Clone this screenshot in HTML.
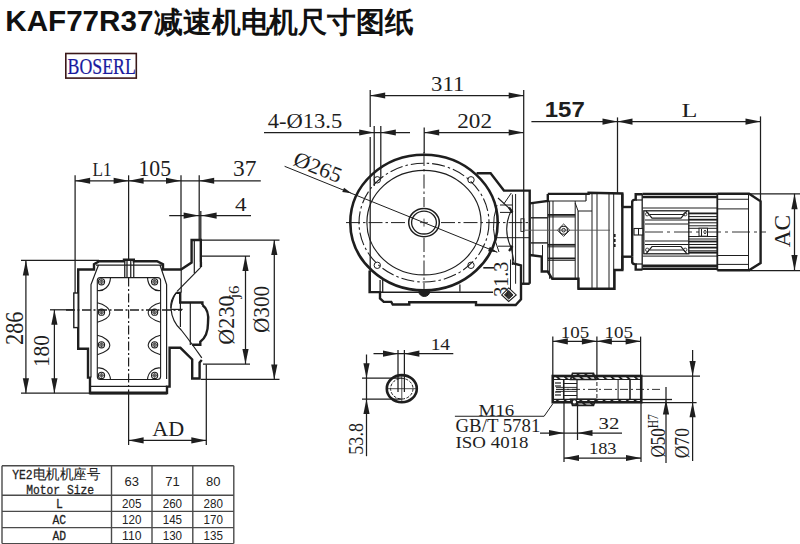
<!DOCTYPE html>
<html><head><meta charset="utf-8"><style>html,body{margin:0;padding:0;background:#fff;width:800px;height:544px;overflow:hidden}svg{display:block}</style></head><body>
<svg width="800" height="544" viewBox="0 0 800 544">
<text transform="matrix(0.9871,0.0000,0.0000,1.0105,5.299,31.371)" font-family="Liberation Sans" font-weight="bold" font-size="30" fill="#111">KAF77R37</text>
<text x="154" y="31.5" font-family="Liberation Sans" font-size="28.6" font-weight="bold" fill="#111" text-anchor="start" textLength="259.5" lengthAdjust="spacingAndGlyphs">减速机电机尺寸图纸</text>
<rect x="65.8" y="53.5" width="70.5" height="24.6" fill="none" stroke="#3b1818" stroke-width="1.6"/>
<text transform="matrix(0.8907,0.0000,0.0000,1.1556,67.505,73.561)" font-family="Liberation Serif" font-weight="normal" font-size="20" fill="#1a1a9e" stroke="#1a1a9e" stroke-width="0.2">BOSERL</text>
<line x1="2" y1="465.8" x2="2" y2="543.6" stroke="#4a4a4a" stroke-width="1.4" stroke-linecap="butt"/>
<line x1="111.5" y1="465.8" x2="111.5" y2="543.6" stroke="#4a4a4a" stroke-width="1.4" stroke-linecap="butt"/>
<line x1="152" y1="465.8" x2="152" y2="543.6" stroke="#4a4a4a" stroke-width="1.4" stroke-linecap="butt"/>
<line x1="192.8" y1="465.8" x2="192.8" y2="543.6" stroke="#4a4a4a" stroke-width="1.4" stroke-linecap="butt"/>
<line x1="233.8" y1="465.8" x2="233.8" y2="543.6" stroke="#4a4a4a" stroke-width="1.4" stroke-linecap="butt"/>
<line x1="2" y1="465.8" x2="233.8" y2="465.8" stroke="#4a4a4a" stroke-width="1.4" stroke-linecap="butt"/>
<line x1="2" y1="495.3" x2="233.8" y2="495.3" stroke="#4a4a4a" stroke-width="1.4" stroke-linecap="butt"/>
<line x1="2" y1="511.4" x2="233.8" y2="511.4" stroke="#4a4a4a" stroke-width="1.4" stroke-linecap="butt"/>
<line x1="2" y1="527.6" x2="233.8" y2="527.6" stroke="#4a4a4a" stroke-width="1.4" stroke-linecap="butt"/>
<line x1="2" y1="543.6" x2="233.8" y2="543.6" stroke="#4a4a4a" stroke-width="1.4" stroke-linecap="butt"/>
<text x="12.3" y="479.3" font-family="Liberation Mono" font-size="13.5" font-weight="normal" fill="#222" text-anchor="start" textLength="20.3" lengthAdjust="spacingAndGlyphs" stroke="#222" stroke-width="0.3">YE2</text>
<text x="32.6" y="479.3" font-family="Liberation Sans" font-size="13.5" font-weight="normal" fill="#222" text-anchor="start" textLength="67.5" lengthAdjust="spacingAndGlyphs" stroke="#222" stroke-width="0.12">电机机座号</text>
<text x="26.2" y="493.5" font-family="Liberation Mono" font-size="13.5" font-weight="normal" fill="#222" text-anchor="start" textLength="67.9" lengthAdjust="spacingAndGlyphs" stroke="#222" stroke-width="0.3">Motor Size</text>
<text x="131.7" y="485.6" font-family="Liberation Sans" font-size="13" font-weight="normal" fill="#222" text-anchor="middle">63</text>
<text x="172.4" y="485.6" font-family="Liberation Sans" font-size="13" font-weight="normal" fill="#222" text-anchor="middle">71</text>
<text x="213.3" y="485.6" font-family="Liberation Sans" font-size="13" font-weight="normal" fill="#222" text-anchor="middle">80</text>
<text x="59.3" y="508.3" font-family="Liberation Mono" font-size="13.5" font-weight="normal" fill="#222" text-anchor="middle" textLength="6.8" lengthAdjust="spacingAndGlyphs" stroke="#222" stroke-width="0.3">L</text>
<text x="131.75" y="508.3" font-family="Liberation Sans" font-size="13" font-weight="normal" fill="#222" text-anchor="middle" textLength="19.4" lengthAdjust="spacingAndGlyphs">205</text>
<text x="172.4" y="508.3" font-family="Liberation Sans" font-size="13" font-weight="normal" fill="#222" text-anchor="middle" textLength="19.4" lengthAdjust="spacingAndGlyphs">260</text>
<text x="213.3" y="508.3" font-family="Liberation Sans" font-size="13" font-weight="normal" fill="#222" text-anchor="middle" textLength="19.4" lengthAdjust="spacingAndGlyphs">280</text>
<text x="59.3" y="523.6" font-family="Liberation Mono" font-size="13.5" font-weight="normal" fill="#222" text-anchor="middle" textLength="13.6" lengthAdjust="spacingAndGlyphs" stroke="#222" stroke-width="0.3">AC</text>
<text x="131.75" y="523.6" font-family="Liberation Sans" font-size="13" font-weight="normal" fill="#222" text-anchor="middle" textLength="19.4" lengthAdjust="spacingAndGlyphs">120</text>
<text x="172.4" y="523.6" font-family="Liberation Sans" font-size="13" font-weight="normal" fill="#222" text-anchor="middle" textLength="19.4" lengthAdjust="spacingAndGlyphs">145</text>
<text x="213.3" y="523.6" font-family="Liberation Sans" font-size="13" font-weight="normal" fill="#222" text-anchor="middle" textLength="19.4" lengthAdjust="spacingAndGlyphs">170</text>
<text x="59.3" y="540.1" font-family="Liberation Mono" font-size="13.5" font-weight="normal" fill="#222" text-anchor="middle" textLength="13.6" lengthAdjust="spacingAndGlyphs" stroke="#222" stroke-width="0.3">AD</text>
<text x="131.75" y="540.1" font-family="Liberation Sans" font-size="13" font-weight="normal" fill="#222" text-anchor="middle" textLength="19.4" lengthAdjust="spacingAndGlyphs">110</text>
<text x="172.4" y="540.1" font-family="Liberation Sans" font-size="13" font-weight="normal" fill="#222" text-anchor="middle" textLength="19.4" lengthAdjust="spacingAndGlyphs">130</text>
<text x="213.3" y="540.1" font-family="Liberation Sans" font-size="13" font-weight="normal" fill="#222" text-anchor="middle" textLength="19.4" lengthAdjust="spacingAndGlyphs">135</text>
<line x1="75.1" y1="175.3" x2="75.1" y2="293" stroke="#1e1e1e" stroke-width="1.25" stroke-linecap="butt"/>
<line x1="128.6" y1="175.3" x2="128.6" y2="259.8" stroke="#1e1e1e" stroke-width="1.25" stroke-linecap="butt"/>
<line x1="181" y1="175.3" x2="181" y2="269.5" stroke="#1e1e1e" stroke-width="1.25" stroke-linecap="butt"/>
<line x1="199.2" y1="175.3" x2="199.2" y2="240" stroke="#1e1e1e" stroke-width="1.25" stroke-linecap="butt"/>
<line x1="75.1" y1="180.75" x2="260.8" y2="180.75" stroke="#1e1e1e" stroke-width="1.25" stroke-linecap="butt"/>
<polygon points="75.10,180.75 90.10,177.65 90.10,183.85" fill="#1e1e1e"/>
<polygon points="128.60,180.75 113.60,177.65 113.60,183.85" fill="#1e1e1e"/>
<polygon points="128.60,180.75 143.60,177.65 143.60,183.85" fill="#1e1e1e"/>
<polygon points="181.00,180.75 166.00,177.65 166.00,183.85" fill="#1e1e1e"/>
<polygon points="199.20,180.75 214.20,177.65 214.20,183.85" fill="#1e1e1e"/>
<text transform="matrix(0.8585,0.0000,0.0000,0.8981,92.621,176.150)" font-family="Liberation Serif" font-weight="normal" font-size="20" fill="#1e1e1e">L1</text>
<text transform="matrix(1.0873,0.0000,0.0000,1.1148,138.447,176.171)" font-family="Liberation Serif" font-weight="normal" font-size="20" fill="#1e1e1e">105</text>
<text transform="matrix(1.1730,0.0000,0.0000,1.1037,232.977,176.174)" font-family="Liberation Serif" font-weight="normal" font-size="20" fill="#1e1e1e">37</text>
<line x1="169.2" y1="215.6" x2="251" y2="215.6" stroke="#1e1e1e" stroke-width="1.25" stroke-linecap="butt"/>
<polygon points="198.60,215.60 183.60,212.50 183.60,218.70" fill="#1e1e1e"/>
<polygon points="201.60,215.60 216.60,212.50 216.60,218.70" fill="#1e1e1e"/>
<line x1="200.8" y1="211" x2="200.8" y2="240" stroke="#1e1e1e" stroke-width="1.25" stroke-linecap="butt"/>
<text transform="matrix(1.1568,0.0000,0.0000,0.9434,235.072,210.750)" font-family="Liberation Serif" font-weight="normal" font-size="20" fill="#1e1e1e">4</text>
<line x1="21" y1="260.4" x2="99" y2="260.4" stroke="#1e1e1e" stroke-width="1.25" stroke-linecap="butt"/>
<line x1="21" y1="393.2" x2="90" y2="393.2" stroke="#1e1e1e" stroke-width="1.25" stroke-linecap="butt"/>
<line x1="25.9" y1="260.4" x2="25.9" y2="393.2" stroke="#1e1e1e" stroke-width="1.25" stroke-linecap="butt"/>
<polygon points="25.90,260.40 22.80,275.40 29.00,275.40" fill="#1e1e1e"/>
<polygon points="25.90,393.20 22.80,378.20 29.00,378.20" fill="#1e1e1e"/>
<text transform="matrix(0.0000,-1.1158,1.3037,0.0000,22.824,344.966)" font-family="Liberation Serif" font-weight="normal" font-size="20" fill="#1e1e1e">286</text>
<line x1="50" y1="309.8" x2="78" y2="309.8" stroke="#1e1e1e" stroke-width="1.25" stroke-linecap="butt"/>
<line x1="54.4" y1="309.8" x2="54.4" y2="393.2" stroke="#1e1e1e" stroke-width="1.25" stroke-linecap="butt"/>
<polygon points="54.40,309.80 51.30,324.80 57.50,324.80" fill="#1e1e1e"/>
<polygon points="54.40,393.20 51.30,378.20 57.50,378.20" fill="#1e1e1e"/>
<text transform="matrix(0.0000,-1.0691,1.2000,0.0000,49.350,367.121)" font-family="Liberation Serif" font-weight="normal" font-size="20" fill="#1e1e1e">180</text>
<line x1="128.6" y1="393" x2="128.6" y2="445" stroke="#1e1e1e" stroke-width="1.25" stroke-linecap="butt"/>
<line x1="206.3" y1="364.5" x2="206.3" y2="445" stroke="#1e1e1e" stroke-width="1.25" stroke-linecap="butt"/>
<line x1="128.6" y1="440.4" x2="206.3" y2="440.4" stroke="#1e1e1e" stroke-width="1.25" stroke-linecap="butt"/>
<polygon points="128.60,440.40 143.60,437.30 143.60,443.50" fill="#1e1e1e"/>
<polygon points="206.30,440.40 191.30,437.30 191.30,443.50" fill="#1e1e1e"/>
<text transform="matrix(1.1063,0.0000,0.0000,1.0415,152.373,436.150)" font-family="Liberation Serif" font-weight="normal" font-size="20" fill="#1e1e1e">AD</text>
<line x1="201" y1="256" x2="250" y2="256" stroke="#1e1e1e" stroke-width="1.25" stroke-linecap="butt"/>
<line x1="203" y1="364.1" x2="250" y2="364.1" stroke="#1e1e1e" stroke-width="1.25" stroke-linecap="butt"/>
<line x1="245.5" y1="256" x2="245.5" y2="364.1" stroke="#1e1e1e" stroke-width="1.25" stroke-linecap="butt"/>
<polygon points="245.50,256.00 242.40,271.00 248.60,271.00" fill="#1e1e1e"/>
<polygon points="245.50,364.10 242.40,349.10 248.60,349.10" fill="#1e1e1e"/>
<line x1="201" y1="240" x2="279.5" y2="240" stroke="#1e1e1e" stroke-width="1.25" stroke-linecap="butt"/>
<line x1="201" y1="379.4" x2="279.5" y2="379.4" stroke="#1e1e1e" stroke-width="1.25" stroke-linecap="butt"/>
<line x1="274.3" y1="240" x2="274.3" y2="379.4" stroke="#1e1e1e" stroke-width="1.25" stroke-linecap="butt"/>
<polygon points="274.30,240.00 271.20,255.00 277.40,255.00" fill="#1e1e1e"/>
<polygon points="274.30,379.40 271.20,364.40 277.40,364.40" fill="#1e1e1e"/>
<text transform="matrix(0.0000,-1.1093,1.1860,0.0000,234.457,344.682)" font-family="Liberation Serif" font-weight="normal" font-size="20" fill="#1e1e1e">Ø230</text>
<text transform="matrix(0.0000,-0.8516,0.7086,0.0000,239.339,298.624)" font-family="Liberation Serif" font-weight="normal" font-size="20" fill="#1e1e1e">j6</text>
<text transform="matrix(0.0000,-1.0605,1.1930,0.0000,269.054,332.945)" font-family="Liberation Serif" font-weight="normal" font-size="20" fill="#1e1e1e">Ø300</text>
<polyline points="78.2,293 78.2,269.5 94,269.5 94,264.3 99.3,261.2 124,261.2 124,259.8 133.8,259.8 133.8,261.2 157,261.2 163,264.3 163,269.5 181,269.5 191.6,262.5 191.6,240 200.8,240 200.8,262" stroke="#1e1e1e" stroke-width="2.4" fill="none" stroke-linejoin="miter"/>
<polyline points="78.2,293 78.2,348.7 88,348.7 88,377.6 90,377.6 90,393.1 167,393.1 167,386.6 169.6,386.6 169.6,347.8 180.4,347.8 192.2,359.4 192.2,378.5 199.6,378.5 199.6,362.4 201.8,360" stroke="#1e1e1e" stroke-width="2.4" fill="none" stroke-linejoin="miter"/>
<rect x="73.8" y="293" width="4.4" height="34.6" fill="#fff" stroke="#1e1e1e" stroke-width="1.4"/>
<line x1="90" y1="386.4" x2="167" y2="386.4" stroke="#1e1e1e" stroke-width="1.25" stroke-linecap="butt"/>
<polyline points="98.5,265 91,284.5 91,377.6" stroke="#1e1e1e" stroke-width="1.2" fill="none" stroke-linejoin="miter"/>
<polyline points="160,265 166.6,284.5 166.6,379" stroke="#1e1e1e" stroke-width="1.2" fill="none" stroke-linejoin="miter"/>
<line x1="96" y1="265" x2="162" y2="265" stroke="#1e1e1e" stroke-width="1.25" stroke-linecap="butt"/>
<rect x="97.3" y="277.6" width="63.3" height="101.9" rx="3" fill="none" stroke="#1e1e1e" stroke-width="1.1"/>
<line x1="124.75" y1="260.5" x2="124.75" y2="277.6" stroke="#1e1e1e" stroke-width="1.25" stroke-linecap="butt"/>
<line x1="127" y1="260.5" x2="127" y2="277.6" stroke="#1e1e1e" stroke-width="1.25" stroke-linecap="butt"/>
<line x1="130.75" y1="260.5" x2="130.75" y2="277.6" stroke="#1e1e1e" stroke-width="1.25" stroke-linecap="butt"/>
<line x1="133.75" y1="260.5" x2="133.75" y2="277.6" stroke="#1e1e1e" stroke-width="1.25" stroke-linecap="butt"/>
<line x1="128.6" y1="277.6" x2="128.6" y2="393" stroke="#1e1e1e" stroke-width="1.2" stroke-dasharray="9 2.5 2 2.5" stroke-linecap="butt"/>
<line x1="66" y1="310" x2="182" y2="310" stroke="#1e1e1e" stroke-width="1.3" stroke-dasharray="9 2.5 2 2.5" stroke-linecap="butt"/>
<circle cx="101.5" cy="281.8" r="3.1" stroke="#1e1e1e" stroke-width="1.1" fill="none"/>
<circle cx="101.5" cy="281.8" r="1.7" stroke="#1e1e1e" stroke-width="0.8" fill="none"/>
<line x1="99.3" y1="281.8" x2="103.7" y2="281.8" stroke="#1e1e1e" stroke-width="0.6" stroke-linecap="butt"/>
<line x1="101.5" y1="279.6" x2="101.5" y2="284.0" stroke="#1e1e1e" stroke-width="0.6" stroke-linecap="butt"/>
<circle cx="154.6" cy="281.8" r="3.1" stroke="#1e1e1e" stroke-width="1.1" fill="none"/>
<circle cx="154.6" cy="281.8" r="1.7" stroke="#1e1e1e" stroke-width="0.8" fill="none"/>
<line x1="152.4" y1="281.8" x2="156.79999999999998" y2="281.8" stroke="#1e1e1e" stroke-width="0.6" stroke-linecap="butt"/>
<line x1="154.6" y1="279.6" x2="154.6" y2="284.0" stroke="#1e1e1e" stroke-width="0.6" stroke-linecap="butt"/>
<circle cx="101.5" cy="312.2" r="3.1" stroke="#1e1e1e" stroke-width="1.1" fill="none"/>
<circle cx="101.5" cy="312.2" r="1.7" stroke="#1e1e1e" stroke-width="0.8" fill="none"/>
<line x1="99.3" y1="312.2" x2="103.7" y2="312.2" stroke="#1e1e1e" stroke-width="0.6" stroke-linecap="butt"/>
<line x1="101.5" y1="310.0" x2="101.5" y2="314.4" stroke="#1e1e1e" stroke-width="0.6" stroke-linecap="butt"/>
<circle cx="154.6" cy="312.2" r="3.1" stroke="#1e1e1e" stroke-width="1.1" fill="none"/>
<circle cx="154.6" cy="312.2" r="1.7" stroke="#1e1e1e" stroke-width="0.8" fill="none"/>
<line x1="152.4" y1="312.2" x2="156.79999999999998" y2="312.2" stroke="#1e1e1e" stroke-width="0.6" stroke-linecap="butt"/>
<line x1="154.6" y1="310.0" x2="154.6" y2="314.4" stroke="#1e1e1e" stroke-width="0.6" stroke-linecap="butt"/>
<circle cx="101.5" cy="344.8" r="3.1" stroke="#1e1e1e" stroke-width="1.1" fill="none"/>
<circle cx="101.5" cy="344.8" r="1.7" stroke="#1e1e1e" stroke-width="0.8" fill="none"/>
<line x1="99.3" y1="344.8" x2="103.7" y2="344.8" stroke="#1e1e1e" stroke-width="0.6" stroke-linecap="butt"/>
<line x1="101.5" y1="342.6" x2="101.5" y2="347.0" stroke="#1e1e1e" stroke-width="0.6" stroke-linecap="butt"/>
<circle cx="154.6" cy="344.8" r="3.1" stroke="#1e1e1e" stroke-width="1.1" fill="none"/>
<circle cx="154.6" cy="344.8" r="1.7" stroke="#1e1e1e" stroke-width="0.8" fill="none"/>
<line x1="152.4" y1="344.8" x2="156.79999999999998" y2="344.8" stroke="#1e1e1e" stroke-width="0.6" stroke-linecap="butt"/>
<line x1="154.6" y1="342.6" x2="154.6" y2="347.0" stroke="#1e1e1e" stroke-width="0.6" stroke-linecap="butt"/>
<circle cx="101.5" cy="375.4" r="3.1" stroke="#1e1e1e" stroke-width="1.1" fill="none"/>
<circle cx="101.5" cy="375.4" r="1.7" stroke="#1e1e1e" stroke-width="0.8" fill="none"/>
<line x1="99.3" y1="375.4" x2="103.7" y2="375.4" stroke="#1e1e1e" stroke-width="0.6" stroke-linecap="butt"/>
<line x1="101.5" y1="373.2" x2="101.5" y2="377.59999999999997" stroke="#1e1e1e" stroke-width="0.6" stroke-linecap="butt"/>
<circle cx="154.6" cy="375.4" r="3.1" stroke="#1e1e1e" stroke-width="1.1" fill="none"/>
<circle cx="154.6" cy="375.4" r="1.7" stroke="#1e1e1e" stroke-width="0.8" fill="none"/>
<line x1="152.4" y1="375.4" x2="156.79999999999998" y2="375.4" stroke="#1e1e1e" stroke-width="0.6" stroke-linecap="butt"/>
<line x1="154.6" y1="373.2" x2="154.6" y2="377.59999999999997" stroke="#1e1e1e" stroke-width="0.6" stroke-linecap="butt"/>
<path d="M97.3,302.7 C104,304.2 110,308.2 109.8,313.2 C109.5,317.2 104,320.2 97.3,322.2" stroke="#1e1e1e" stroke-width="1.1" fill="none"/>
<path d="M160.6,302.7 C154,304.2 148,308.2 148.2,313.2 C148.5,317.2 154,320.2 160.6,322.2" stroke="#1e1e1e" stroke-width="1.1" fill="none"/>
<path d="M97.3,335.3 C104,336.8 110,340.8 109.8,345.8 C109.5,349.8 104,352.8 97.3,354.8" stroke="#1e1e1e" stroke-width="1.1" fill="none"/>
<path d="M160.6,335.3 C154,336.8 148,340.8 148.2,345.8 C148.5,349.8 154,352.8 160.6,354.8" stroke="#1e1e1e" stroke-width="1.1" fill="none"/>
<path d="M97.3,290.5 C104,291.5 110,286.5 110.5,277.6" stroke="#1e1e1e" stroke-width="1.1" fill="none"/>
<path d="M160.6,290.5 C154,291.5 148,286.5 147.5,277.6" stroke="#1e1e1e" stroke-width="1.1" fill="none"/>
<path d="M97.3,368 C104,367 110,372 110.5,379.5" stroke="#1e1e1e" stroke-width="1.1" fill="none"/>
<path d="M160.6,368 C154,367 148,372 147.5,379.5" stroke="#1e1e1e" stroke-width="1.1" fill="none"/>
<line x1="89.5" y1="393.1" x2="167" y2="393.1" stroke="#1e1e1e" stroke-width="3.0" stroke-linecap="butt"/>
<line x1="194.3" y1="240.5" x2="194.3" y2="273.2" stroke="#1e1e1e" stroke-width="1.2" stroke-linecap="butt"/>
<line x1="181.2" y1="269.5" x2="181.2" y2="292.4" stroke="#1e1e1e" stroke-width="1.2" stroke-linecap="butt"/>
<line x1="200.9" y1="262" x2="200.9" y2="267.1" stroke="#1e1e1e" stroke-width="2.4" stroke-linecap="butt"/>
<polyline points="176.1,292.9 180.2,292.9 180.2,302.5 202.4,302.5 202.4,305" stroke="#1e1e1e" stroke-width="2.4" fill="none" stroke-linejoin="miter"/>
<path d="M202.4,305 Q209.5,310 208,323 Q208,336 200.3,341.8 L200.3,344.7 L192.2,344.7" stroke="#1e1e1e" stroke-width="2.4" fill="none"/>
<line x1="180.4" y1="302.5" x2="180.4" y2="327" stroke="#1e1e1e" stroke-width="1.2" stroke-linecap="butt"/>
<line x1="190.3" y1="302.5" x2="190.3" y2="345" stroke="#1e1e1e" stroke-width="1.2" stroke-linecap="butt"/>
<line x1="170.9" y1="309.4" x2="182.6" y2="309.4" stroke="#1e1e1e" stroke-width="1.2" stroke-linecap="butt"/>
<path d="M200.9,267.1 L177.1,291.4" stroke="#1e1e1e" stroke-width="1.2" fill="none"/>
<path d="M176.1,292.9 Q170,300 170.9,308 Q172,322 181.2,330 Q190,341 201.8,357.9" stroke="#1e1e1e" stroke-width="1.2" fill="none"/>
<path d="M176.1,292.9 Q172.5,298 170.9,308" stroke="#1e1e1e" stroke-width="1.2" fill="none"/>
<line x1="370.2" y1="90" x2="370.2" y2="127" stroke="#1e1e1e" stroke-width="1.25" stroke-linecap="butt"/>
<line x1="370.2" y1="137" x2="370.2" y2="292" stroke="#1e1e1e" stroke-width="1.25" stroke-linecap="butt"/>
<line x1="523.7" y1="90" x2="523.7" y2="283.75" stroke="#1e1e1e" stroke-width="1.25" stroke-linecap="butt"/>
<line x1="370.2" y1="95.5" x2="523.7" y2="95.5" stroke="#1e1e1e" stroke-width="1.25" stroke-linecap="butt"/>
<polygon points="370.20,95.50 385.20,92.40 385.20,98.60" fill="#1e1e1e"/>
<polygon points="523.70,95.50 508.70,92.40 508.70,98.60" fill="#1e1e1e"/>
<text transform="matrix(1.1370,0.0000,0.0000,1.0704,431.013,91.332)" font-family="Liberation Serif" font-weight="normal" font-size="20" fill="#1e1e1e">311</text>
<line x1="424.2" y1="127.5" x2="424.2" y2="153" stroke="#1e1e1e" stroke-width="1.25" stroke-linecap="butt"/>
<line x1="424.2" y1="132.5" x2="523.7" y2="132.5" stroke="#1e1e1e" stroke-width="1.25" stroke-linecap="butt"/>
<polygon points="424.20,132.50 439.20,129.40 439.20,135.60" fill="#1e1e1e"/>
<polygon points="523.70,132.50 508.70,129.40 508.70,135.60" fill="#1e1e1e"/>
<text transform="matrix(1.1589,0.0000,0.0000,1.0519,457.241,128.087)" font-family="Liberation Serif" font-weight="normal" font-size="20" fill="#1e1e1e">202</text>
<line x1="264" y1="132.5" x2="410" y2="132.5" stroke="#1e1e1e" stroke-width="1.25" stroke-linecap="butt"/>
<polygon points="374.20,132.50 359.20,129.40 359.20,135.60" fill="#1e1e1e"/>
<polygon points="380.80,132.50 395.80,129.40 395.80,135.60" fill="#1e1e1e"/>
<line x1="374.2" y1="126" x2="374.2" y2="186" stroke="#1e1e1e" stroke-width="1.25" stroke-linecap="butt"/>
<line x1="380.8" y1="126" x2="380.8" y2="178" stroke="#1e1e1e" stroke-width="1.25" stroke-linecap="butt"/>
<text transform="matrix(1.1266,0.0000,0.0000,1.0175,267.837,128.441)" font-family="Liberation Serif" font-weight="normal" font-size="20" fill="#1e1e1e">4-Ø13.5</text>
<ellipse cx="424.0" cy="222.6" rx="73.7" ry="67.8" stroke="#1e1e1e" stroke-width="2.6" fill="none"/>
<ellipse cx="424.0" cy="222.6" rx="65" ry="59.4" stroke="#1e1e1e" stroke-width="1.1" fill="none" stroke-dasharray="13 3 2.5 3"/>
<ellipse cx="424.0" cy="222.6" rx="57.1" ry="52.3" stroke="#1e1e1e" stroke-width="1.2" fill="none"/>
<circle cx="377.3" cy="179.8" r="3.2" stroke="#1e1e1e" stroke-width="1.0" fill="none"/>
<circle cx="471" cy="179.8" r="3.2" stroke="#1e1e1e" stroke-width="1.0" fill="none"/>
<circle cx="377.3" cy="265.3" r="3.2" stroke="#1e1e1e" stroke-width="1.0" fill="none"/>
<circle cx="471" cy="265.3" r="3.2" stroke="#1e1e1e" stroke-width="1.0" fill="none"/>
<ellipse cx="424.0" cy="222.6" rx="15.3" ry="14.1" stroke="#1e1e1e" stroke-width="1.5" fill="none"/>
<ellipse cx="424.0" cy="222.6" rx="12.4" ry="11.4" stroke="#1e1e1e" stroke-width="1.3" fill="none"/>
<line x1="420.0" y1="222.6" x2="428.0" y2="222.6" stroke="#1e1e1e" stroke-width="0.8" stroke-linecap="butt"/>
<line x1="424.0" y1="218.6" x2="424.0" y2="226.6" stroke="#1e1e1e" stroke-width="0.8" stroke-linecap="butt"/>
<line x1="346" y1="222.6" x2="408" y2="222.6" stroke="#1e1e1e" stroke-width="1.0" stroke-dasharray="14 3 2.5 3" stroke-linecap="butt"/>
<line x1="441" y1="222.6" x2="531" y2="222.6" stroke="#1e1e1e" stroke-width="1.0" stroke-dasharray="14 3 2.5 3" stroke-linecap="butt"/>
<line x1="424.0" y1="152" x2="424.0" y2="207" stroke="#1e1e1e" stroke-width="1.0" stroke-dasharray="14 3 2.5 3" stroke-linecap="butt"/>
<line x1="424.0" y1="238" x2="424.0" y2="296" stroke="#1e1e1e" stroke-width="1.0" stroke-dasharray="14 3 2.5 3" stroke-linecap="butt"/>
<line x1="284.6" y1="166.3" x2="497.3" y2="252.3" stroke="#1e1e1e" stroke-width="1.0" stroke-linecap="butt"/>
<polygon points="351.50,193.20 342.25,192.09 344.04,187.63" fill="#1e1e1e"/>
<polygon points="497.30,252.30 488.05,251.19 489.84,246.73" fill="#1e1e1e"/>
<text transform="translate(291.9,164.6) rotate(21.80)" font-family="Liberation Serif" font-size="21.5" fill="#1e1e1e" textLength="50" lengthAdjust="spacingAndGlyphs">Ø265</text>
<polyline points="476.6,173.2 490.6,173.2 503.9,190.6 529.7,190.6 529.7,283.75" stroke="#1e1e1e" stroke-width="2.4" fill="none" stroke-linejoin="miter"/>
<polyline points="369.6,270.5 369.6,292.1 380,292.1 380,298.5 383.75,301.9 391.25,301.9 392.75,304.5 409.25,304.5 409.25,302.2 476,302.2 476,305 515.7,305 521,299.2 521,265.4 512,263" stroke="#1e1e1e" stroke-width="2.4" fill="none" stroke-linejoin="miter"/>
<polyline points="380,292.2 493,292.2" stroke="#1e1e1e" stroke-width="1.6" fill="none" stroke-linejoin="miter"/>
<polyline points="459.9,291.7 459.9,284.4" stroke="#1e1e1e" stroke-width="1.2" fill="none" stroke-linejoin="miter"/>
<polyline points="483.3,267.8 494,267.8" stroke="#1e1e1e" stroke-width="1.6" fill="none" stroke-linejoin="miter"/>
<line x1="510.5" y1="259.5" x2="510.5" y2="289.6" stroke="#1e1e1e" stroke-width="1.0" stroke-linecap="butt"/>
<polyline points="520.8,283.75 529.7,283.75" stroke="#1e1e1e" stroke-width="2.4" fill="none" stroke-linejoin="miter"/>
<line x1="380.1" y1="280" x2="380.1" y2="292" stroke="#1e1e1e" stroke-width="1.25" stroke-linecap="butt"/>
<line x1="382.7" y1="280" x2="382.7" y2="292" stroke="#1e1e1e" stroke-width="1.25" stroke-linecap="butt"/>
<path d="M418.8,291.5 A5.5,5 0 0 0 429.8,291.5 Z" stroke="#1e1e1e" stroke-width="1" fill="#1e1e1e"/>
<polygon points="508.7,287.9 516.2,294.9 508.7,301.4 501.7,294.9" stroke="#1e1e1e" stroke-width="1.1" fill="none" stroke-linejoin="miter"/>
<polygon points="508.7,290.5 513,294.9 508.7,299 504.5,294.9" stroke="#1e1e1e" stroke-width="1" fill="#333" stroke-linejoin="miter"/>
<line x1="512.4" y1="194.5" x2="512.4" y2="265" stroke="#1e1e1e" stroke-width="1.0" stroke-linecap="butt"/>
<line x1="515.6" y1="194" x2="515.6" y2="283.75" stroke="#1e1e1e" stroke-width="1.0" stroke-linecap="butt"/>
<rect x="520.9" y="218.8" width="3.1" height="12.6" fill="none" stroke="#1e1e1e" stroke-width="0.9"/>
<polyline points="500,205 512.2,205" stroke="#1e1e1e" stroke-width="1.0" fill="none" stroke-linejoin="miter"/>
<polyline points="500,212.4 512.2,212.4" stroke="#1e1e1e" stroke-width="1.0" fill="none" stroke-linejoin="miter"/>
<polyline points="503.9,203.8 511.3,193" stroke="#1e1e1e" stroke-width="1.0" fill="none" stroke-linejoin="miter"/>
<path d="M498,198 L511.4,210.3 Q502,229 511.4,248.3 L514,262" stroke="#1e1e1e" stroke-width="1.1" fill="none"/>
<path d="M497,205 Q489,229 499,252" stroke="#1e1e1e" stroke-width="1.0" fill="none"/>
<line x1="509" y1="207.5" x2="512.5" y2="212.5" stroke="#1e1e1e" stroke-width="2.2" stroke-linecap="butt"/>
<line x1="509" y1="251" x2="512.5" y2="246" stroke="#1e1e1e" stroke-width="2.2" stroke-linecap="butt"/>
<line x1="495" y1="237.7" x2="530" y2="237.7" stroke="#1e1e1e" stroke-width="1.0" stroke-linecap="butt"/>
<line x1="498" y1="246.2" x2="512" y2="246.2" stroke="#1e1e1e" stroke-width="1.0" stroke-linecap="butt"/>
<text transform="matrix(0.0000,-1.0045,1.0741,0.0000,507.581,296.855)" font-family="Liberation Serif" font-weight="normal" font-size="20" fill="#1e1e1e">31.3</text>
<line x1="531.4" y1="121.6" x2="760.5" y2="121.6" stroke="#1e1e1e" stroke-width="1.25" stroke-linecap="butt"/>
<polygon points="617.50,121.60 602.50,118.50 602.50,124.70" fill="#1e1e1e"/>
<polygon points="617.50,121.60 632.50,118.50 632.50,124.70" fill="#1e1e1e"/>
<polygon points="760.50,121.60 745.50,118.50 745.50,124.70" fill="#1e1e1e"/>
<line x1="617.5" y1="117.4" x2="617.5" y2="193.7" stroke="#1e1e1e" stroke-width="1.25" stroke-linecap="butt"/>
<line x1="760.5" y1="116.4" x2="760.5" y2="201" stroke="#1e1e1e" stroke-width="1.25" stroke-linecap="butt"/>
<text transform="matrix(1.2000,0.0000,0.0000,1.0964,544.750,117.476)" font-family="Liberation Sans" font-weight="bold" font-size="20" fill="#1e1e1e">157</text>
<text transform="matrix(1.3048,0.0000,0.0000,0.9811,681.498,117.050)" font-family="Liberation Serif" font-weight="normal" font-size="20" fill="#1e1e1e">L</text>
<line x1="749" y1="193.75" x2="800" y2="193.75" stroke="#1e1e1e" stroke-width="1.25" stroke-linecap="butt"/>
<line x1="749" y1="270.6" x2="800" y2="270.6" stroke="#1e1e1e" stroke-width="1.25" stroke-linecap="butt"/>
<line x1="794.5" y1="193.75" x2="794.5" y2="270.6" stroke="#1e1e1e" stroke-width="1.25" stroke-linecap="butt"/>
<polygon points="794.50,193.75 791.40,209.25 797.60,209.25" fill="#1e1e1e"/>
<polygon points="794.50,270.60 791.40,255.10 797.60,255.10" fill="#1e1e1e"/>
<text transform="matrix(0.0000,-1.1736,1.1556,0.0000,790.361,247.343)" font-family="Liberation Serif" font-weight="normal" font-size="20" fill="#1e1e1e">AC</text>
<polyline points="529.75,203.4 547.8,201 547.8,193.9" stroke="#1e1e1e" stroke-width="2.4" fill="none" stroke-linejoin="miter"/>
<polyline points="529.75,255 541.75,256.5 541.75,271.5 547.75,271.5 552.25,278.8 578.5,278.8 578.5,288.75 614.5,288.75 614.5,270 622.3,270 622.3,255.75" stroke="#1e1e1e" stroke-width="2.4" fill="none" stroke-linejoin="miter"/>
<line x1="533" y1="203" x2="533" y2="255" stroke="#1e1e1e" stroke-width="1.0" stroke-linecap="butt"/>
<line x1="542.5" y1="245" x2="542.5" y2="271.5" stroke="#1e1e1e" stroke-width="1.0" stroke-linecap="butt"/>
<polyline points="547.8,193.9 588.6,193.9 588.6,192.7 622.3,193.5 622.3,206.8" stroke="#1e1e1e" stroke-width="2.4" fill="none" stroke-linejoin="miter"/>
<line x1="547.8" y1="201" x2="586" y2="201" stroke="#1e1e1e" stroke-width="1.0" stroke-linecap="butt"/>
<line x1="586" y1="193.9" x2="586" y2="201" stroke="#1e1e1e" stroke-width="1.2" stroke-linecap="butt"/>
<line x1="547.8" y1="193.9" x2="547.8" y2="271.5" stroke="#1e1e1e" stroke-width="1.2" stroke-linecap="butt"/>
<line x1="549.6" y1="201" x2="549.6" y2="278.8" stroke="#1e1e1e" stroke-width="1.0" stroke-linecap="butt"/>
<line x1="553" y1="201" x2="553" y2="278.8" stroke="#1e1e1e" stroke-width="1.0" stroke-linecap="butt"/>
<line x1="575.2" y1="201" x2="575.2" y2="278.8" stroke="#1e1e1e" stroke-width="1.0" stroke-linecap="butt"/>
<line x1="592" y1="193.9" x2="592" y2="288.75" stroke="#1e1e1e" stroke-width="1.0" stroke-linecap="butt"/>
<line x1="597" y1="193.9" x2="597" y2="288.75" stroke="#1e1e1e" stroke-width="1.0" stroke-linecap="butt"/>
<line x1="609" y1="193.9" x2="609" y2="288.75" stroke="#1e1e1e" stroke-width="1.0" stroke-linecap="butt"/>
<line x1="613.7" y1="193.9" x2="613.7" y2="288.75" stroke="#1e1e1e" stroke-width="1.0" stroke-linecap="butt"/>
<polyline points="575.2,203 578.1,211 592,211" stroke="#1e1e1e" stroke-width="1.0" fill="none" stroke-linejoin="miter"/>
<line x1="578.1" y1="211" x2="578.1" y2="288.75" stroke="#1e1e1e" stroke-width="1.2" stroke-linecap="butt"/>
<line x1="547.8" y1="214.9" x2="575.2" y2="214.9" stroke="#1e1e1e" stroke-width="1.8" stroke-linecap="butt"/>
<line x1="547.8" y1="216.9" x2="575.2" y2="216.9" stroke="#1e1e1e" stroke-width="1.0" stroke-linecap="butt"/>
<line x1="547.8" y1="244.8" x2="575.2" y2="244.8" stroke="#1e1e1e" stroke-width="1.8" stroke-linecap="butt"/>
<line x1="547.8" y1="246.8" x2="575.2" y2="246.8" stroke="#1e1e1e" stroke-width="1.0" stroke-linecap="butt"/>
<line x1="547.8" y1="258.4" x2="575.2" y2="258.4" stroke="#1e1e1e" stroke-width="1.8" stroke-linecap="butt"/>
<line x1="547.8" y1="260.3" x2="575.2" y2="260.3" stroke="#1e1e1e" stroke-width="1.0" stroke-linecap="butt"/>
<line x1="531" y1="217.8" x2="547.8" y2="217.8" stroke="#1e1e1e" stroke-width="1.4" stroke-linecap="butt"/>
<line x1="531" y1="242.9" x2="547.8" y2="242.9" stroke="#1e1e1e" stroke-width="1.4" stroke-linecap="butt"/>
<circle cx="563.6" cy="230.2" r="4.0" stroke="#1e1e1e" stroke-width="1.1" fill="none"/>
<polygon points="563.6,224 569.8,230.2 563.6,236.4 557.4,230.2" stroke="#1e1e1e" stroke-width="0.9" fill="none" stroke-linejoin="miter"/>
<circle cx="563.6" cy="230.2" r="1.8" stroke="#1e1e1e" stroke-width="1.0" fill="none"/>
<line x1="525" y1="230.2" x2="610" y2="230.2" stroke="#555" stroke-width="0.9" stroke-linecap="butt"/>
<line x1="614.8" y1="234" x2="614.8" y2="237" stroke="#1e1e1e" stroke-width="1.6" stroke-linecap="butt"/>
<line x1="614.8" y1="239" x2="614.8" y2="242" stroke="#1e1e1e" stroke-width="1.6" stroke-linecap="butt"/>
<line x1="614.8" y1="244" x2="614.8" y2="247" stroke="#1e1e1e" stroke-width="1.6" stroke-linecap="butt"/>
<line x1="622.3" y1="193.5" x2="622.3" y2="270.2" stroke="#1e1e1e" stroke-width="2.4" stroke-linecap="butt"/>
<polyline points="622.3,207 632.2,207" stroke="#1e1e1e" stroke-width="2.4" fill="none" stroke-linejoin="miter"/>
<polyline points="622.3,256.7 632.2,256.7" stroke="#1e1e1e" stroke-width="2.4" fill="none" stroke-linejoin="miter"/>
<path d="M632.2,207 L632.2,201.5 Q632.5,199.8 635.7,199.6 L635.7,194.2 L642.5,194.2" stroke="#1e1e1e" stroke-width="2.4" fill="none"/>
<path d="M632.2,256.7 L632.2,262.3 Q632.5,264.2 635.7,264.4 L635.7,269.6 L642.5,269.6" stroke="#1e1e1e" stroke-width="2.4" fill="none"/>
<line x1="632.2" y1="207" x2="632.2" y2="256.7" stroke="#1e1e1e" stroke-width="2.4" stroke-linecap="butt"/>
<line x1="642.2" y1="194" x2="642.2" y2="270" stroke="#1e1e1e" stroke-width="1.3" stroke-linecap="butt"/>
<line x1="635.7" y1="200" x2="642.2" y2="200" stroke="#1e1e1e" stroke-width="1.2" stroke-linecap="butt"/>
<line x1="635.7" y1="264" x2="642.2" y2="264" stroke="#1e1e1e" stroke-width="1.2" stroke-linecap="butt"/>
<rect x="634" y="228.5" width="8.8" height="6.5" fill="#fff" stroke="#1e1e1e" stroke-width="1.1"/>
<line x1="638.5" y1="228.5" x2="638.5" y2="235" stroke="#1e1e1e" stroke-width="1.0" stroke-linecap="butt"/>
<line x1="642.5" y1="193.9" x2="717.3" y2="193.9" stroke="#1e1e1e" stroke-width="2.4" stroke-linecap="butt"/>
<line x1="642.5" y1="197" x2="717.3" y2="197" stroke="#1e1e1e" stroke-width="2.4" stroke-linecap="butt"/>
<line x1="642.5" y1="268.8" x2="717.3" y2="268.8" stroke="#1e1e1e" stroke-width="2.4" stroke-linecap="butt"/>
<line x1="642.5" y1="265.8" x2="717.3" y2="265.8" stroke="#1e1e1e" stroke-width="2.4" stroke-linecap="butt"/>
<line x1="642.5" y1="208" x2="717.3" y2="208" stroke="#1e1e1e" stroke-width="1.0" stroke-linecap="butt"/>
<line x1="642.5" y1="256.1" x2="717.3" y2="256.1" stroke="#1e1e1e" stroke-width="1.0" stroke-linecap="butt"/>
<line x1="689" y1="252.6" x2="717.3" y2="252.6" stroke="#1e1e1e" stroke-width="2.0" stroke-linecap="butt"/>
<rect x="643.8" y="210.8" width="45" height="43" fill="none" stroke="#1e1e1e" stroke-width="1.3"/>
<polyline points="650,214.5 683,214.5" stroke="#1e1e1e" stroke-width="1.0" fill="none" stroke-linejoin="miter"/>
<polyline points="650,250 683,250" stroke="#1e1e1e" stroke-width="1.0" fill="none" stroke-linejoin="miter"/>
<polyline points="646,210.8 652,218.2 681,218.2 687,210.8" stroke="#1e1e1e" stroke-width="1.2" fill="none" stroke-linejoin="miter"/>
<polyline points="646,253.8 652,246.5 681,246.5 687,253.8" stroke="#1e1e1e" stroke-width="1.2" fill="none" stroke-linejoin="miter"/>
<circle cx="647.2" cy="214.2" r="1.7" stroke="#1e1e1e" stroke-width="0.8" fill="none"/>
<circle cx="685.2" cy="214.2" r="1.7" stroke="#1e1e1e" stroke-width="0.8" fill="none"/>
<circle cx="647.2" cy="249.8" r="1.7" stroke="#1e1e1e" stroke-width="0.8" fill="none"/>
<circle cx="685.2" cy="249.8" r="1.7" stroke="#1e1e1e" stroke-width="0.8" fill="none"/>
<line x1="645" y1="220" x2="688" y2="220" stroke="#1e1e1e" stroke-width="1.0" stroke-linecap="butt"/>
<line x1="645" y1="224" x2="688" y2="224" stroke="#1e1e1e" stroke-width="1.0" stroke-linecap="butt"/>
<line x1="645" y1="241" x2="688" y2="241" stroke="#1e1e1e" stroke-width="1.0" stroke-linecap="butt"/>
<line x1="645" y1="244.5" x2="688" y2="244.5" stroke="#1e1e1e" stroke-width="1.0" stroke-linecap="butt"/>
<line x1="688.3" y1="213.4" x2="717.3" y2="213.4" stroke="#1e1e1e" stroke-width="1.8" stroke-linecap="butt"/>
<line x1="688.3" y1="216.6" x2="717.3" y2="216.6" stroke="#1e1e1e" stroke-width="1.0" stroke-linecap="butt"/>
<line x1="688.3" y1="219.7" x2="717.3" y2="219.7" stroke="#1e1e1e" stroke-width="1.8" stroke-linecap="butt"/>
<line x1="688.3" y1="222.8" x2="717.3" y2="222.8" stroke="#1e1e1e" stroke-width="1.0" stroke-linecap="butt"/>
<line x1="688.3" y1="225.8" x2="717.3" y2="225.8" stroke="#1e1e1e" stroke-width="1.0" stroke-linecap="butt"/>
<line x1="688.3" y1="228.3" x2="717.3" y2="228.3" stroke="#1e1e1e" stroke-width="1.0" stroke-linecap="butt"/>
<line x1="688.3" y1="236.5" x2="717.3" y2="236.5" stroke="#1e1e1e" stroke-width="1.0" stroke-linecap="butt"/>
<line x1="688.3" y1="239" x2="717.3" y2="239" stroke="#1e1e1e" stroke-width="1.0" stroke-linecap="butt"/>
<line x1="688.3" y1="241.5" x2="717.3" y2="241.5" stroke="#1e1e1e" stroke-width="1.8" stroke-linecap="butt"/>
<line x1="688.3" y1="244.5" x2="717.3" y2="244.5" stroke="#1e1e1e" stroke-width="1.0" stroke-linecap="butt"/>
<line x1="688.3" y1="247.6" x2="717.3" y2="247.6" stroke="#1e1e1e" stroke-width="1.8" stroke-linecap="butt"/>
<line x1="688.3" y1="250.8" x2="717.3" y2="250.8" stroke="#1e1e1e" stroke-width="1.0" stroke-linecap="butt"/>
<rect x="699" y="228.2" width="8.5" height="8" fill="#fff" stroke="#1e1e1e" stroke-width="1.0"/>
<line x1="701.5" y1="229" x2="701.5" y2="236" stroke="#1e1e1e" stroke-width="1.0" stroke-linecap="butt"/>
<line x1="704" y1="230.5" x2="706" y2="230.5" stroke="#1e1e1e" stroke-width="0.8" stroke-linecap="butt"/>
<line x1="704" y1="233.5" x2="706" y2="233.5" stroke="#1e1e1e" stroke-width="0.8" stroke-linecap="butt"/>
<line x1="645" y1="232" x2="766" y2="232" stroke="#1e1e1e" stroke-width="0.9" stroke-dasharray="18 4 3 4" stroke-linecap="butt"/>
<polyline points="717.3,193.75 749.1,193.75 760.6,201.3 760.6,263.1 749,270.3 717.3,270.3" stroke="#1e1e1e" stroke-width="2.4" fill="none" stroke-linejoin="miter"/>
<line x1="717.3" y1="193.75" x2="717.3" y2="270.4" stroke="#1e1e1e" stroke-width="1.8" stroke-linecap="butt"/>
<line x1="748.5" y1="193.75" x2="748.5" y2="270.4" stroke="#1e1e1e" stroke-width="1.0" stroke-linecap="butt"/>
<line x1="717.3" y1="199.25" x2="748.5" y2="199.25" stroke="#1e1e1e" stroke-width="1.0" stroke-linecap="butt"/>
<line x1="717.3" y1="208.9" x2="748.5" y2="208.9" stroke="#1e1e1e" stroke-width="1.0" stroke-linecap="butt"/>
<line x1="717.3" y1="255.5" x2="748.5" y2="255.5" stroke="#1e1e1e" stroke-width="1.0" stroke-linecap="butt"/>
<line x1="717.3" y1="264.4" x2="748.5" y2="264.4" stroke="#1e1e1e" stroke-width="1.0" stroke-linecap="butt"/>
<ellipse cx="401.8" cy="388.7" rx="15.0" ry="13.6" stroke="#1e1e1e" stroke-width="2.6" fill="none"/>
<ellipse cx="401.8" cy="388.7" rx="11.2" ry="10.3" stroke="#1e1e1e" stroke-width="1.0" fill="none" stroke-dasharray="3 1.5"/>
<line x1="386" y1="388.7" x2="417" y2="388.7" stroke="#1e1e1e" stroke-width="0.8" stroke-linecap="butt"/>
<line x1="401.8" y1="375" x2="401.8" y2="402" stroke="#1e1e1e" stroke-width="0.8" stroke-linecap="butt"/>
<line x1="398" y1="350" x2="398" y2="392" stroke="#1e1e1e" stroke-width="1.25" stroke-linecap="butt"/>
<line x1="404.4" y1="350" x2="404.4" y2="392" stroke="#1e1e1e" stroke-width="1.25" stroke-linecap="butt"/>
<line x1="373.5" y1="353.7" x2="453.3" y2="353.7" stroke="#1e1e1e" stroke-width="1.25" stroke-linecap="butt"/>
<polygon points="398.00,353.70 383.00,350.60 383.00,356.80" fill="#1e1e1e"/>
<polygon points="404.40,353.70 419.40,350.60 419.40,356.80" fill="#1e1e1e"/>
<text transform="matrix(0.9722,0.0000,0.0000,0.8151,430.649,350.450)" font-family="Liberation Serif" font-weight="normal" font-size="20" fill="#1e1e1e">14</text>
<line x1="362" y1="378.2" x2="401.8" y2="378.2" stroke="#1e1e1e" stroke-width="1.25" stroke-linecap="butt"/>
<line x1="362" y1="399" x2="401.8" y2="399" stroke="#1e1e1e" stroke-width="1.25" stroke-linecap="butt"/>
<line x1="366.5" y1="354.5" x2="366.5" y2="456.2" stroke="#1e1e1e" stroke-width="1.25" stroke-linecap="butt"/>
<polygon points="366.50,378.20 363.40,363.20 369.60,363.20" fill="#1e1e1e"/>
<polygon points="366.50,399.00 363.40,414.00 369.60,414.00" fill="#1e1e1e"/>
<text transform="matrix(0.0000,-0.9061,1.0593,0.0000,363.485,454.683)" font-family="Liberation Serif" font-weight="normal" font-size="20" fill="#1e1e1e">53.8</text>
<polyline points="454.9,416.25 544.1,416.25 552.9,403.65" stroke="#1e1e1e" stroke-width="1.0" fill="none" stroke-linejoin="miter"/>
<text transform="matrix(0.9469,0.0000,0.0000,0.8296,478.577,415.543)" font-family="Liberation Serif" font-weight="normal" font-size="20" fill="#1e1e1e">M16</text>
<text transform="matrix(0.9405,0.0000,0.0000,0.9852,455.545,431.604)" font-family="Liberation Serif" font-weight="normal" font-size="20" fill="#1e1e1e">GB/T 5781</text>
<text transform="matrix(0.9452,0.0000,0.0000,0.8815,455.541,448.230)" font-family="Liberation Serif" font-weight="normal" font-size="20" fill="#1e1e1e">ISO 4018</text>
<line x1="552.8" y1="336.6" x2="552.8" y2="376" stroke="#1e1e1e" stroke-width="1.25" stroke-linecap="butt"/>
<line x1="596.9" y1="336.6" x2="596.9" y2="376" stroke="#1e1e1e" stroke-width="1.25" stroke-linecap="butt"/>
<line x1="640.6" y1="336.6" x2="640.6" y2="376" stroke="#1e1e1e" stroke-width="1.25" stroke-linecap="butt"/>
<line x1="552.8" y1="341.35" x2="640.6" y2="341.35" stroke="#1e1e1e" stroke-width="1.25" stroke-linecap="butt"/>
<polygon points="552.80,341.35 567.80,338.25 567.80,344.45" fill="#1e1e1e"/>
<polygon points="596.90,341.35 581.90,338.25 581.90,344.45" fill="#1e1e1e"/>
<polygon points="596.90,341.35 611.90,338.25 611.90,344.45" fill="#1e1e1e"/>
<polygon points="640.60,341.35 625.60,338.25 625.60,344.45" fill="#1e1e1e"/>
<text transform="matrix(0.9473,0.0000,0.0000,0.8556,560.742,337.636)" font-family="Liberation Serif" font-weight="normal" font-size="20" fill="#1e1e1e">105</text>
<text transform="matrix(0.9491,0.0000,0.0000,0.8556,604.489,337.636)" font-family="Liberation Serif" font-weight="normal" font-size="20" fill="#1e1e1e">105</text>
<defs><pattern id="h" width="5.5" height="5.5" patternUnits="userSpaceOnUse" patternTransform="rotate(-45)"><rect width="5.5" height="5.5" fill="#fff"/><rect width="2.0" height="5.5" fill="#1e1e1e"/></pattern></defs>
<rect x="553" y="376" width="88" height="3.4" fill="url(#h)"/>
<rect x="553" y="399.2" width="88" height="3.2" fill="url(#h)"/>
<polygon points="570.6,379.5 572.5,373.2 593.5,373.2 595.6,379.5" fill="url(#h)" stroke="#1e1e1e" stroke-width="1.6"/>
<polygon points="570.6,399.3 572.5,405.4 593.5,405.4 595.6,399.3" fill="url(#h)" stroke="#1e1e1e" stroke-width="1.6"/>
<rect x="552.75" y="376" width="88.5" height="26.25" fill="none" stroke="#1e1e1e" stroke-width="2.6"/>
<line x1="553" y1="379.5" x2="641" y2="379.5" stroke="#1e1e1e" stroke-width="1.2" stroke-linecap="butt"/>
<line x1="553" y1="399.3" x2="641" y2="399.3" stroke="#1e1e1e" stroke-width="1.2" stroke-linecap="butt"/>
<line x1="563.75" y1="379.5" x2="563.75" y2="399.3" stroke="#1e1e1e" stroke-width="1.6" stroke-linecap="butt"/>
<line x1="577" y1="379.5" x2="577" y2="399.3" stroke="#1e1e1e" stroke-width="1.2" stroke-linecap="butt"/>
<line x1="618.1" y1="379.5" x2="618.1" y2="399.3" stroke="#1e1e1e" stroke-width="1.0" stroke-linecap="butt"/>
<line x1="630" y1="379.5" x2="630" y2="399.3" stroke="#1e1e1e" stroke-width="1.6" stroke-linecap="butt"/>
<line x1="596.9" y1="376" x2="596.9" y2="402" stroke="#1e1e1e" stroke-width="1.0" stroke-dasharray="4 2" stroke-linecap="butt"/>
<line x1="563.75" y1="383.5" x2="577" y2="383.5" stroke="#1e1e1e" stroke-width="1.0" stroke-linecap="butt"/>
<line x1="563.75" y1="395.5" x2="577" y2="395.5" stroke="#1e1e1e" stroke-width="1.0" stroke-linecap="butt"/>
<line x1="556" y1="387.4" x2="577" y2="387.4" stroke="#1e1e1e" stroke-width="0.9" stroke-linecap="butt"/>
<line x1="556" y1="389.4" x2="577" y2="389.4" stroke="#1e1e1e" stroke-width="0.9" stroke-linecap="butt"/>
<line x1="556" y1="391.4" x2="577" y2="391.4" stroke="#1e1e1e" stroke-width="0.9" stroke-linecap="butt"/>
<line x1="555" y1="383" x2="561" y2="383" stroke="#1e1e1e" stroke-width="1.2" stroke-linecap="butt"/>
<line x1="555" y1="386" x2="561" y2="386" stroke="#1e1e1e" stroke-width="1.2" stroke-linecap="butt"/>
<line x1="555" y1="392" x2="561" y2="392" stroke="#1e1e1e" stroke-width="1.2" stroke-linecap="butt"/>
<line x1="555" y1="395" x2="561" y2="395" stroke="#1e1e1e" stroke-width="1.2" stroke-linecap="butt"/>
<line x1="556" y1="389.4" x2="660" y2="389.4" stroke="#1e1e1e" stroke-width="0.9" stroke-dasharray="8 3 2 3" stroke-linecap="butt"/>
<circle cx="574.4" cy="401.9" r="2.3" stroke="#1e1e1e" stroke-width="1.2" fill="#fff"/>
<line x1="641" y1="376" x2="700" y2="376" stroke="#1e1e1e" stroke-width="1.25" stroke-linecap="butt"/>
<line x1="641" y1="402.6" x2="696.6" y2="402.6" stroke="#1e1e1e" stroke-width="1.25" stroke-linecap="butt"/>
<line x1="641" y1="399.5" x2="672" y2="399.5" stroke="#1e1e1e" stroke-width="1.3" stroke-linecap="butt"/>
<line x1="666" y1="387" x2="666" y2="463" stroke="#1e1e1e" stroke-width="1.25" stroke-linecap="butt"/>
<polygon points="666.00,399.50 662.90,414.50 669.10,414.50" fill="#1e1e1e"/>
<line x1="692.6" y1="350" x2="692.6" y2="461" stroke="#1e1e1e" stroke-width="1.25" stroke-linecap="butt"/>
<polygon points="692.60,376.00 689.50,361.00 695.70,361.00" fill="#1e1e1e"/>
<polygon points="692.60,402.25 689.50,417.25 695.70,417.25" fill="#1e1e1e"/>
<text transform="matrix(0.0000,-0.8576,0.9965,0.0000,664.952,457.593)" font-family="Liberation Serif" font-weight="normal" font-size="20" fill="#1e1e1e">Ø50</text>
<text transform="matrix(0.0000,-0.5849,0.6868,0.0000,657.750,428.342)" font-family="Liberation Serif" font-weight="normal" font-size="20" fill="#1e1e1e">H7</text>
<text transform="matrix(0.0000,-0.8788,1.0456,0.0000,688.727,458.309)" font-family="Liberation Serif" font-weight="normal" font-size="20" fill="#1e1e1e">Ø70</text>
<line x1="564" y1="402" x2="564" y2="462" stroke="#1e1e1e" stroke-width="1.25" stroke-linecap="butt"/>
<line x1="577.5" y1="402" x2="577.5" y2="440" stroke="#1e1e1e" stroke-width="1.25" stroke-linecap="butt"/>
<line x1="641" y1="402" x2="641" y2="462" stroke="#1e1e1e" stroke-width="1.25" stroke-linecap="butt"/>
<line x1="540" y1="433" x2="622" y2="433" stroke="#1e1e1e" stroke-width="1.25" stroke-linecap="butt"/>
<polygon points="564.00,433.00 549.00,429.90 549.00,436.10" fill="#1e1e1e"/>
<polygon points="577.50,433.00 592.50,429.90 592.50,436.10" fill="#1e1e1e"/>
<text transform="matrix(1.0389,0.0000,0.0000,0.8296,598.611,429.143)" font-family="Liberation Serif" font-weight="normal" font-size="20" fill="#1e1e1e">32</text>
<line x1="564" y1="458" x2="641" y2="458" stroke="#1e1e1e" stroke-width="1.25" stroke-linecap="butt"/>
<polygon points="564.00,458.00 579.00,454.90 579.00,461.10" fill="#1e1e1e"/>
<polygon points="641.00,458.00 626.00,454.90 626.00,461.10" fill="#1e1e1e"/>
<text transform="matrix(0.9164,0.0000,0.0000,0.8444,589.046,454.339)" font-family="Liberation Serif" font-weight="normal" font-size="20" fill="#1e1e1e">183</text>
</svg>
</body></html>
